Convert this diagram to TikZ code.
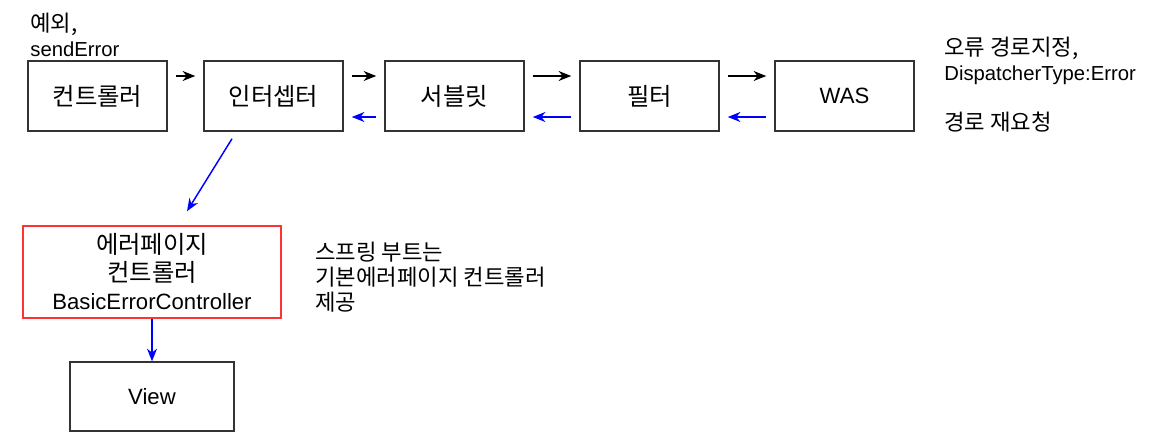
\documentclass[tikz,border=0pt]{standalone}
\usepackage{fontspec}
\setmainfont{Liberation Sans}
\newfontfamily\kr[Scale=1.1]{Noto Sans CJK KR}
\usepackage{xcolor}
\usetikzlibrary{arrows.meta,positioning,calc}
\definecolor{BoxBorder}{HTML}{333333}
\definecolor{ErrorRed}{HTML}{FF3333}
\definecolor{ReturnBlue}{HTML}{0000FF}
\tikzstyle{FlowStep} =[draw=BoxBorder,line width=1.1pt,minimum width=104.25pt,minimum height=52.5pt,font=\fontsize{16.6}{21}\selectfont,align=center]
\tikzstyle{Note} =[anchor=west,inner sep=0pt,align=left,font=\fontsize{15.2}{18.75}\selectfont]
\tikzstyle{Forward} =[-{Stealth[length=9.5pt,width=7.5pt,inset=3pt]},line width=1.1pt,black]
\tikzstyle{Return} =[Forward,ReturnBlue]
\tikzstyle{Gap} =[shorten <=6pt,shorten >=6pt]

\begin{document}
\begin{tikzpicture}[x=0.75pt,y=-0.75pt,on grid,semithick]
\useasboundingbox (0,0) rectangle (1170,447);
\node[FlowStep](Controller) at (97.5,96){\kr 컨트롤러};
\node[FlowStep,right=132pt of Controller](Interceptor){\kr 인터셉터};
\node[FlowStep,right=135.75pt of Interceptor](Servlet){\kr 서블릿};
\node[FlowStep,right=146.25pt of Servlet](Filter){\kr 필터};
\node[FlowStep,right=146.25pt of Filter](WAS){WAS};
\node[FlowStep,draw=ErrorRed,minimum width=193.5pt,minimum height=69pt](ErrorPageController) at (152,272){{\kr 에러페이지}\\{\kr 컨트롤러}\\BasicErrorController};
\node[FlowStep,minimum width=123pt,minimum height=51.75pt,below=93.4pt of ErrorPageController](View){View};
\node[Note](ExceptionNote) at (30,35){{\kr 예외,}\\sendError};
\node[Note](RedispatchNote) at (944,84.5){{\kr 오류 경로지정,}\\DispatcherType:Error\\[18.75pt]{\kr 경로 재요청}};
\node[Note](SpringBootNote) at (315,277){{\kr 스프링 부트는}\\{\kr 기본에러페이지 컨트롤러}\\{\kr 제공}};
\draw[Forward,Gap] ([yshift=15pt]Controller.east) -- ([yshift=15pt]Interceptor.west);
\draw[Forward,Gap] ([yshift=15pt]Interceptor.east) -- ([yshift=15pt]Servlet.west);
\draw[Forward,Gap] ([yshift=15pt]Servlet.east) -- ([yshift=15pt]Filter.west);
\draw[Forward,Gap] ([yshift=15pt]Filter.east) -- ([yshift=15pt]WAS.west);
\draw[Return,Gap] ([yshift=-15.75pt]WAS.west) -- ([yshift=-15.75pt]Filter.east);
\draw[Return,Gap] ([yshift=-15.75pt]Filter.west) -- ([yshift=-15.75pt]Servlet.east);
\draw[Return,Gap] ([yshift=-15.75pt]Servlet.west) -- ([yshift=-15.75pt]Interceptor.east);
\draw[Return] ($(Interceptor.south)+(-41.5,7)$) -- ($(ErrorPageController.north)+(35,-14)$);
\draw[Return] (ErrorPageController) -- (View);
\end{tikzpicture}
\end{document}
